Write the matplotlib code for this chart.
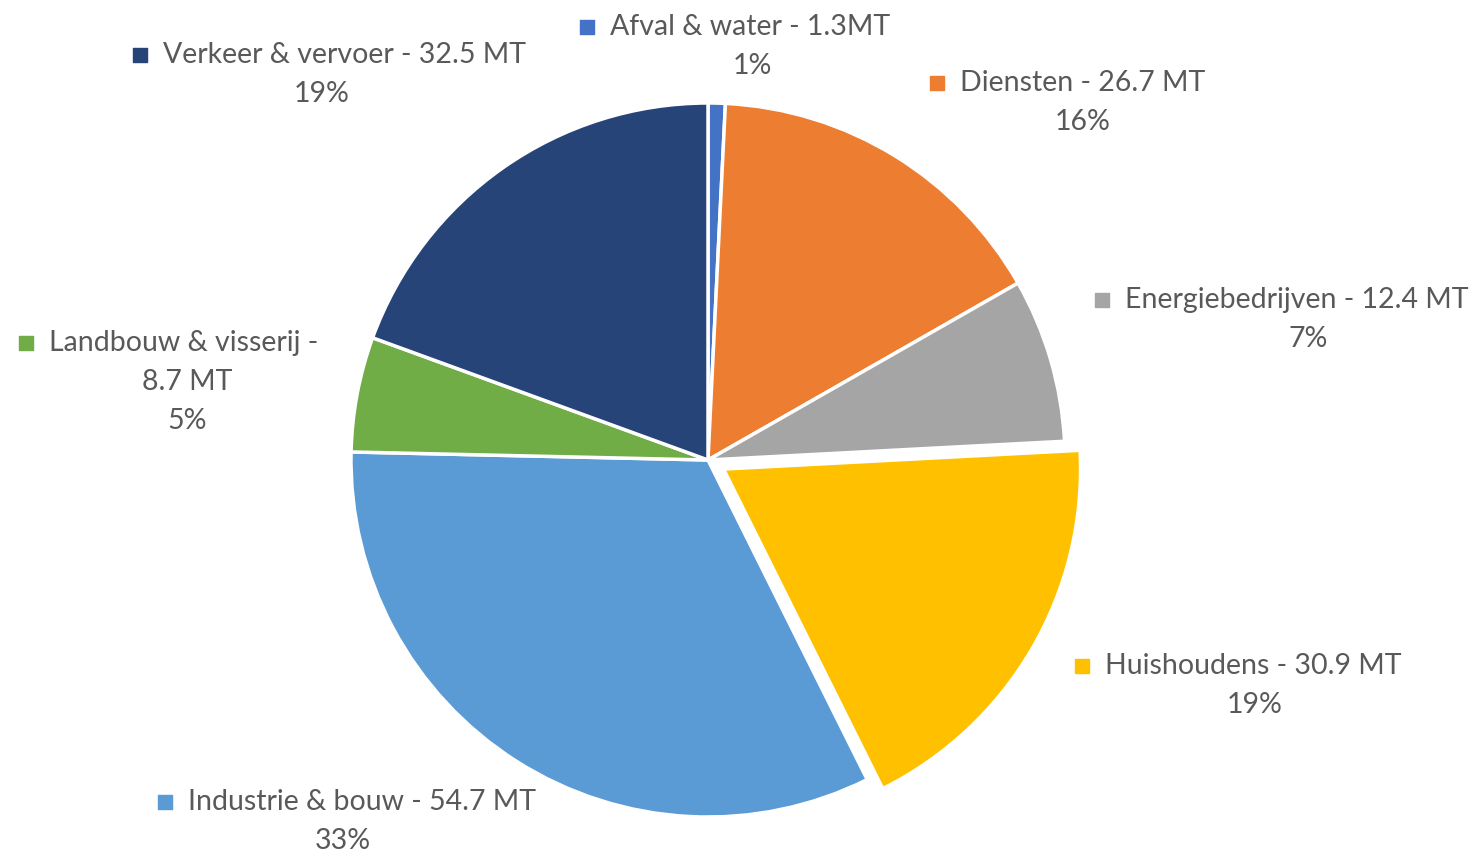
import matplotlib
matplotlib.use("Agg")
import matplotlib.pyplot as plt

categories = ["Afval & water", "Diensten", "Energiebedrijven", "Huishoudens",
              "Industrie & bouw", "Landbouw & visserij", "Verkeer & vervoer"]
values = [1.3, 26.7, 12.4, 30.9, 54.7, 8.7, 32.5]
value_labels = ["1.3MT", "26.7 MT", "12.4 MT", "30.9 MT", "54.7 MT", "8.7 MT", "32.5 MT"]
pct_labels = ["1%", "16%", "7%", "19%", "33%", "5%", "19%"]
colors = ["#4472C4", "#ED7D31", "#A5A5A5", "#FFC000", "#5B9BD5", "#70AD47", "#264478"]
explode_px = [0, 0, 0, 18, 0, 0, 0]

W, H = 1480, 858
fig = plt.figure(figsize=(W / 100, H / 100), dpi=100)
ax = fig.add_axes([0, 0, 1, 1])

R = 357
cx, cy = 708, H - 460
ax.pie(values, colors=colors, startangle=90, counterclock=False,
       explode=explode_px, radius=R, center=(cx, cy),
       wedgeprops=dict(edgecolor="white", linewidth=2.5))
ax.set_xlim(0, W)
ax.set_ylim(0, H)
ax.set_aspect("equal")
ax.axis("off")

txt_color = "#595959"
font = "Lato"
fs = 20.5

# layout: (text_left_x, line1_y, second-lines center x, split) in pixel coords (top-left origin)
layout = {
    "Afval & water": (610, 27, 752, False),
    "Diensten": (960, 83, 1083, False),
    "Energiebedrijven": (1125, 300, 1308, False),
    "Huishoudens": (1105, 666, 1255, False),
    "Industrie & bouw": (188, 802, 343, False),
    "Landbouw & visserij": (49, 343, 187, True),
    "Verkeer & vervoer": (163, 55, 322, False),
}

line_h = 39
for cat, vlab, pct, col in zip(categories, value_labels, pct_labels, colors):
    tx, ty, cx2, split = layout[cat]
    if split:
        first = f"{cat} -"
        rest = [vlab, pct]
    else:
        first = f"{cat} - {vlab}"
        rest = [pct]
    ax.text(tx, H - ty, first, ha="left", va="center", fontsize=fs,
            family=font, color=txt_color)
    ax.scatter([tx - 23], [H - ty], marker="s", s=110, color=col, zorder=5)
    for i, r in enumerate(rest):
        ax.text(cx2, H - (ty + line_h * (i + 1)), r, ha="center", va="center",
                fontsize=fs, family=font, color=txt_color)

fig.savefig("out.png", dpi=100, facecolor="white")
